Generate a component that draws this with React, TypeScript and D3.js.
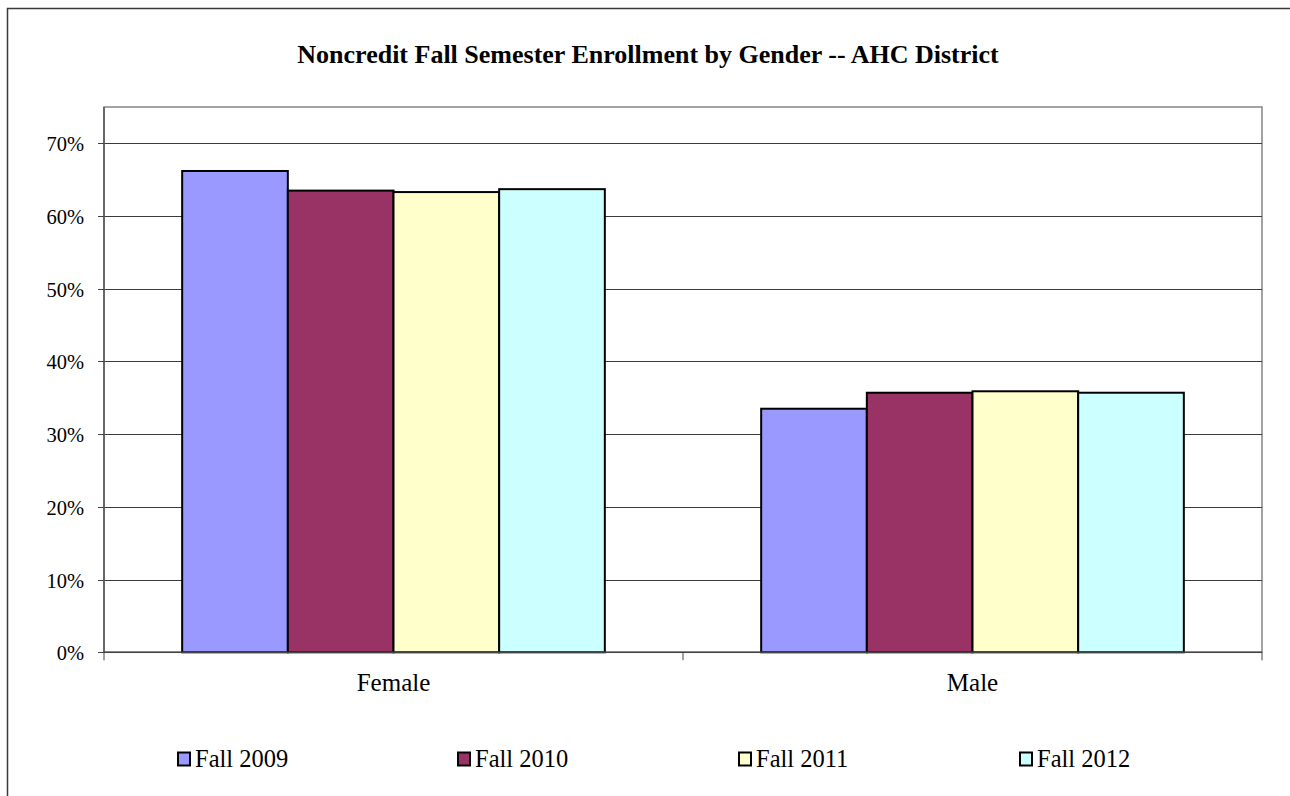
import React, { useEffect, useRef } from "react";
import * as d3 from "d3";

const categories = ["Female", "Male"];
const seriesNames = ["Fall 2009", "Fall 2010", "Fall 2011", "Fall 2012"];
const seriesColors = ["#9999FF", "#993366", "#FFFFCC", "#CCFFFF"];
const fall2009 = [0.662, 0.335];
const fall2010 = [0.635, 0.357];
const fall2011 = [0.633, 0.359];
const fall2012 = [0.637, 0.357];
const yTicks = [0, 0.1, 0.2, 0.3, 0.4, 0.5, 0.6, 0.7];
const title = "Noncredit Fall Semester Enrollment by Gender -- AHC District";

export default function App() {
  const ref = useRef<SVGSVGElement>(null);
  useEffect(() => {
    const svg = d3.select(ref.current);
    svg.selectAll("*").remove();
    const W = 1290, H = 796;
    const left = 104, right = 1262, top = 107, bottom = 652.3;
    const font = "'Liberation Serif', 'Times New Roman', serif";
    const values = [fall2009, fall2010, fall2011, fall2012];

    svg.append("rect").attr("x", 0).attr("y", 0).attr("width", W).attr("height", H).attr("fill", "#fff");
    // outer border
    svg.append("rect").attr("x", 7.5).attr("y", 8.5).attr("width", W + 20).attr("height", H + 20)
      .attr("fill", "none").attr("stroke", "#3a3a3a").attr("stroke-width", 1.5);

    svg.append("text").attr("x", 648).attr("y", 63).attr("text-anchor", "middle")
      .attr("font-family", font).attr("font-weight", "bold").attr("font-size", 26).text(title);

    const y = d3.scaleLinear().domain([0, 0.75]).range([bottom, top]);
    const x0 = d3.scaleBand<string>().domain(categories).range([left, right]).padding(0);
    const bw = x0.bandwidth();
    const groupFrac = 0.73;
    const x1 = d3.scaleBand<string>().domain(seriesNames)
      .range([bw * (1 - groupFrac) / 2, bw * (1 + groupFrac) / 2]).padding(0);

    // plot frame
    svg.append("rect").attr("x", left).attr("y", top).attr("width", right - left).attr("height", bottom - top)
      .attr("fill", "none").attr("stroke", "#858585").attr("stroke-width", 1.5);

    // gridlines
    svg.append("g").selectAll("line").data(yTicks.filter((t) => t > 0)).join("line")
      .attr("x1", left).attr("x2", right)
      .attr("y1", (d) => Math.round(y(d)) + 0.5).attr("y2", (d) => Math.round(y(d)) + 0.5)
      .attr("stroke", "#3c3c3c").attr("stroke-width", 1);

    // bars
    categories.forEach((c, ci) => {
      seriesNames.forEach((s, si) => {
        const v = values[si][ci];
        svg.append("rect")
          .attr("x", (x0(c) as number) + (x1(s) as number))
          .attr("y", y(v))
          .attr("width", x1.bandwidth())
          .attr("height", y(0) - y(v))
          .attr("fill", seriesColors[si])
          .attr("stroke", "#000").attr("stroke-width", 2);
      });
    });

    // axes
    svg.append("line").attr("x1", left).attr("x2", left).attr("y1", top).attr("y2", bottom)
      .attr("stroke", "#555").attr("stroke-width", 1.5);
    svg.append("line").attr("x1", left).attr("x2", right).attr("y1", bottom).attr("y2", bottom)
      .attr("stroke", "#444").attr("stroke-width", 1.5);

    // y ticks and labels
    const yg = svg.append("g");
    yTicks.forEach((t) => {
      const yy = Math.round(y(t)) + 0.5;
      yg.append("line").attr("x1", 98).attr("x2", left).attr("y1", yy).attr("y2", yy)
        .attr("stroke", "#444").attr("stroke-width", 1);
      yg.append("text").attr("x", 84).attr("y", yy + 7.3).attr("text-anchor", "end")
        .attr("font-family", font).attr("font-size", 20.5).text(d3.format(".0%")(t));
    });

    // x ticks (category boundaries)
    const bounds = [left, ...categories.map((c) => (x0(c) as number) + bw)];
    bounds.forEach((bx) => {
      svg.append("line").attr("x1", bx).attr("x2", bx).attr("y1", bottom).attr("y2", bottom + 8)
        .attr("stroke", "#444").attr("stroke-width", 1);
    });
    categories.forEach((c) => {
      svg.append("text").attr("x", (x0(c) as number) + bw / 2).attr("y", 691)
        .attr("text-anchor", "middle").attr("font-family", font).attr("font-size", 25).text(c);
    });

    // legend
    const legendX = [178, 458, 739, 1020];
    seriesNames.forEach((s, i) => {
      svg.append("rect").attr("x", legendX[i]).attr("y", 752.5).attr("width", 12).attr("height", 13)
        .attr("fill", seriesColors[i]).attr("stroke", "#000").attr("stroke-width", 2);
      svg.append("text").attr("x", legendX[i] + 17).attr("y", 767).attr("font-family", font)
        .attr("font-size", 24.5).text(s);
    });
  }, []);
  return (
    <svg ref={ref} width={1290} height={796}
      style={{ position: "absolute", left: 0, top: 0, display: "block" }} />
  );
}
